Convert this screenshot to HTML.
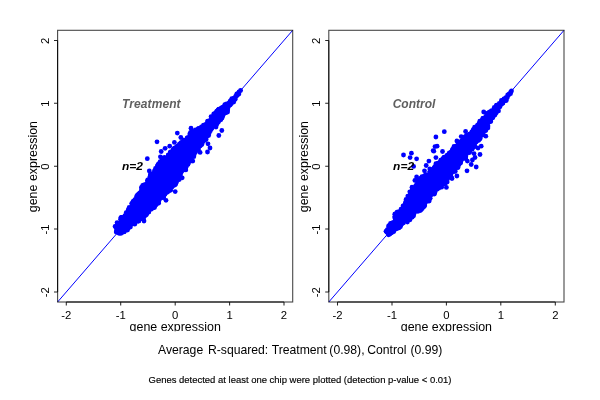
<!DOCTYPE html>
<html><head><meta charset="utf-8"><title>Scatter plot</title>
<style>
html,body{margin:0;padding:0;background:#fff;}
body{width:600px;height:400px;overflow:hidden;font-family:"Liberation Sans",sans-serif;}
svg{display:block;font-family:"Liberation Sans",sans-serif;}
.tk{font-size:11.3px;fill:#000;}
.lab{font-size:12.45px;fill:#000;}
.bi{font-size:12px;font-weight:bold;font-style:italic;}
</style></head><body>
<svg width="600" height="400" viewBox="0 0 600 400">
<defs><clipPath id="cl"><rect x="0" y="300" width="600" height="31.2"/></clipPath></defs>
<rect width="600" height="400" fill="#fff"/>
<line x1="57.6" y1="302.0" x2="292.7" y2="30.3" stroke="#0000ff" stroke-width="1"/>
<rect x="57.6" y="30.3" width="235.1" height="271.7" fill="none" stroke="#000" stroke-opacity="0.72" stroke-width="1.1"/>
<path fill="none" stroke="#000" stroke-opacity="0.85" stroke-width="1.05" d="M66.3,302.0H284.0M66.3,302.0v3.6M120.7,302.0v3.6M175.2,302.0v3.6M229.6,302.0v3.6M284.0,302.0v3.6"/>
<path fill="none" stroke="#000" stroke-opacity="0.85" stroke-width="1.05" d="M57.6,291.9V40.4M57.6,291.9h-3.6M57.6,229.0h-3.6M57.6,166.2h-3.6M57.6,103.3h-3.6M57.6,40.4h-3.6"/>
<text class="tk" x="66.3" y="319" text-anchor="middle">-2</text>
<text class="tk" transform="translate(48.8,292.3) rotate(-90)" text-anchor="middle">-2</text>
<text class="tk" x="120.7" y="319" text-anchor="middle">-1</text>
<text class="tk" transform="translate(48.8,229.4) rotate(-90)" text-anchor="middle">-1</text>
<text class="tk" x="175.2" y="319" text-anchor="middle">0</text>
<text class="tk" transform="translate(48.8,166.6) rotate(-90)" text-anchor="middle">0</text>
<text class="tk" x="229.6" y="319" text-anchor="middle">1</text>
<text class="tk" transform="translate(48.8,103.7) rotate(-90)" text-anchor="middle">1</text>
<text class="tk" x="284.0" y="319" text-anchor="middle">2</text>
<text class="tk" transform="translate(48.8,40.8) rotate(-90)" text-anchor="middle">2</text>
<text class="lab" x="175.2" y="330.9" text-anchor="middle" clip-path="url(#cl)">gene expression</text>
<text class="lab" transform="translate(36.9,166.6) rotate(-90)" text-anchor="middle">gene expression</text>
<line x1="328.8" y1="302.0" x2="564.0" y2="30.3" stroke="#0000ff" stroke-width="1"/>
<rect x="328.8" y="30.3" width="235.2" height="271.7" fill="none" stroke="#000" stroke-opacity="0.72" stroke-width="1.1"/>
<path fill="none" stroke="#000" stroke-opacity="0.85" stroke-width="1.05" d="M337.5,302.0H555.3M337.5,302.0v3.6M392.0,302.0v3.6M446.4,302.0v3.6M500.8,302.0v3.6M555.3,302.0v3.6"/>
<path fill="none" stroke="#000" stroke-opacity="0.85" stroke-width="1.05" d="M328.8,291.9V40.4M328.8,291.9h-3.6M328.8,229.0h-3.6M328.8,166.2h-3.6M328.8,103.3h-3.6M328.8,40.4h-3.6"/>
<text class="tk" x="337.5" y="319" text-anchor="middle">-2</text>
<text class="tk" transform="translate(320.0,292.3) rotate(-90)" text-anchor="middle">-2</text>
<text class="tk" x="392.0" y="319" text-anchor="middle">-1</text>
<text class="tk" transform="translate(320.0,229.4) rotate(-90)" text-anchor="middle">-1</text>
<text class="tk" x="446.4" y="319" text-anchor="middle">0</text>
<text class="tk" transform="translate(320.0,166.6) rotate(-90)" text-anchor="middle">0</text>
<text class="tk" x="500.8" y="319" text-anchor="middle">1</text>
<text class="tk" transform="translate(320.0,103.7) rotate(-90)" text-anchor="middle">1</text>
<text class="tk" x="555.3" y="319" text-anchor="middle">2</text>
<text class="tk" transform="translate(320.0,40.8) rotate(-90)" text-anchor="middle">2</text>
<text class="lab" x="446.4" y="330.9" text-anchor="middle" clip-path="url(#cl)">gene expression</text>
<text class="lab" transform="translate(308.1,166.6) rotate(-90)" text-anchor="middle">gene expression</text>
<g fill="#0000ff">
<path d="M117.2,233.7 118.4,233.8 123.2,232.0 132.7,223.8 133.0,223.6 133.3,223.4 142.8,218.2 151.4,208.7 151.5,208.5 158.4,201.7 164.8,193.8 165.0,193.6 165.2,193.3 172.9,186.8 177.6,178.3 177.8,178.0 184.6,168.1 190.7,158.2 190.8,158.1 195.5,150.6 195.9,150.2 201.7,143.5 206.7,136.1 206.8,136.0 213.1,127.4 213.2,127.1 220.6,118.5 225.5,111.2 225.6,111.0 232.9,101.1 235.1,97.9 234.1,98.6 234.1,98.6 224.1,106.0 214.5,113.2 205.1,124.8 204.9,125.1 204.6,125.3 204.2,125.6 197.3,130.0 197.0,130.1 196.8,130.2 191.7,132.4 188.8,137.5 188.6,137.7 188.4,138.0 188.2,138.3 187.9,138.5 187.7,138.7 177.5,145.5 172.6,150.4 168.3,155.5 168.1,155.7 167.9,155.9 167.6,156.1 162.1,160.0 158.1,166.4 155.5,170.8 155.3,171.0 155.1,171.3 154.9,171.5 151.4,174.9 148.4,178.9 146.5,182.2 146.3,182.6 146.1,182.9 141.7,187.7 140.8,191.7 140.7,192.1 140.6,192.4 140.4,192.8 140.2,193.1 139.9,193.4 135.3,198.4 132.9,204.7 132.7,205.0 132.5,205.3 132.3,205.7 127.1,211.8 123.6,216.1 120.1,220.5 120.1,220.5 117.2,224.1 117.2,233.7Z"/>
<circle cx="121.8" cy="221.4" r="2.4"/>
<circle cx="117.9" cy="228.9" r="2.4"/>
<circle cx="202.3" cy="129.0" r="2.4"/>
<circle cx="218.6" cy="121.7" r="2.4"/>
<circle cx="220.4" cy="111.0" r="2.4"/>
<circle cx="128.3" cy="209.8" r="2.4"/>
<circle cx="162.9" cy="159.9" r="2.4"/>
<circle cx="128.2" cy="212.2" r="2.4"/>
<circle cx="163.0" cy="160.5" r="2.4"/>
<circle cx="195.9" cy="132.6" r="2.4"/>
<circle cx="167.8" cy="190.0" r="2.4"/>
<circle cx="198.4" cy="146.0" r="2.4"/>
<circle cx="204.9" cy="137.0" r="2.4"/>
<circle cx="139.7" cy="196.6" r="2.4"/>
<circle cx="161.5" cy="164.2" r="2.4"/>
<circle cx="219.0" cy="117.7" r="2.4"/>
<circle cx="217.3" cy="112.0" r="2.4"/>
<circle cx="137.2" cy="198.9" r="2.4"/>
<circle cx="192.3" cy="153.8" r="2.4"/>
<circle cx="227.4" cy="110.3" r="2.4"/>
<circle cx="142.2" cy="218.6" r="2.4"/>
<circle cx="128.4" cy="225.7" r="2.4"/>
<circle cx="141.9" cy="192.5" r="2.4"/>
<circle cx="202.6" cy="142.2" r="2.4"/>
<circle cx="134.2" cy="222.1" r="2.4"/>
<circle cx="136.1" cy="220.2" r="2.4"/>
<circle cx="152.5" cy="176.1" r="2.4"/>
<circle cx="141.7" cy="187.8" r="2.4"/>
<circle cx="205.2" cy="126.3" r="2.4"/>
<circle cx="213.8" cy="113.8" r="2.4"/>
<circle cx="158.3" cy="166.4" r="2.4"/>
<circle cx="122.1" cy="220.8" r="2.4"/>
<circle cx="181.6" cy="169.0" r="2.4"/>
<circle cx="223.0" cy="112.5" r="2.4"/>
<circle cx="179.3" cy="146.7" r="2.4"/>
<circle cx="163.9" cy="195.2" r="2.4"/>
<circle cx="130.5" cy="210.8" r="2.4"/>
<circle cx="148.8" cy="212.1" r="2.4"/>
<circle cx="216.0" cy="114.2" r="2.4"/>
<circle cx="160.4" cy="163.6" r="2.4"/>
<circle cx="146.2" cy="213.8" r="2.4"/>
<circle cx="169.6" cy="190.3" r="2.4"/>
<circle cx="126.3" cy="228.2" r="2.4"/>
<circle cx="193.8" cy="156.7" r="2.4"/>
<circle cx="190.1" cy="158.0" r="2.4"/>
<circle cx="139.7" cy="192.8" r="2.4"/>
<circle cx="185.7" cy="141.6" r="2.4"/>
<circle cx="191.4" cy="134.2" r="2.4"/>
<circle cx="127.8" cy="211.4" r="2.4"/>
<circle cx="132.2" cy="203.6" r="2.4"/>
<circle cx="136.1" cy="199.1" r="2.4"/>
<circle cx="129.2" cy="225.2" r="2.4"/>
<circle cx="199.2" cy="130.7" r="2.4"/>
<circle cx="177.0" cy="177.8" r="2.4"/>
<circle cx="228.4" cy="106.8" r="2.4"/>
<circle cx="190.0" cy="156.8" r="2.4"/>
<circle cx="225.2" cy="108.6" r="2.4"/>
<circle cx="162.5" cy="194.3" r="2.4"/>
<circle cx="137.4" cy="195.2" r="2.4"/>
<circle cx="224.4" cy="112.3" r="2.4"/>
<circle cx="134.3" cy="223.2" r="2.4"/>
<circle cx="158.7" cy="199.8" r="2.4"/>
<circle cx="146.6" cy="212.6" r="2.4"/>
<circle cx="128.9" cy="208.8" r="2.4"/>
<circle cx="190.9" cy="157.4" r="2.4"/>
<circle cx="195.5" cy="131.9" r="2.4"/>
<circle cx="134.1" cy="200.8" r="2.4"/>
<circle cx="209.4" cy="131.1" r="2.4"/>
<circle cx="225.2" cy="110.2" r="2.4"/>
<circle cx="179.2" cy="176.4" r="2.4"/>
<circle cx="134.3" cy="203.8" r="2.4"/>
<circle cx="218.1" cy="109.8" r="2.4"/>
<circle cx="185.7" cy="164.7" r="2.4"/>
<circle cx="220.6" cy="110.6" r="2.4"/>
<circle cx="175.8" cy="183.8" r="2.4"/>
<circle cx="204.5" cy="125.9" r="2.4"/>
<circle cx="132.8" cy="222.8" r="2.4"/>
<circle cx="183.5" cy="142.2" r="2.4"/>
<circle cx="209.4" cy="130.9" r="2.4"/>
<circle cx="156.2" cy="202.7" r="2.4"/>
<circle cx="160.6" cy="195.8" r="2.4"/>
<circle cx="177.6" cy="178.8" r="2.4"/>
<circle cx="201.8" cy="128.2" r="2.4"/>
<circle cx="238.9" cy="94.0" r="2.4"/>
<circle cx="163.3" cy="195.0" r="2.4"/>
<circle cx="214.3" cy="124.7" r="2.4"/>
<circle cx="198.1" cy="128.9" r="2.4"/>
<circle cx="163.6" cy="161.2" r="2.4"/>
<circle cx="192.7" cy="134.6" r="2.4"/>
<circle cx="190.8" cy="133.0" r="2.4"/>
<circle cx="130.7" cy="223.6" r="2.4"/>
<circle cx="157.2" cy="202.2" r="2.4"/>
<circle cx="216.1" cy="112.5" r="2.4"/>
<circle cx="159.0" cy="197.9" r="2.4"/>
<circle cx="210.0" cy="129.2" r="2.4"/>
<circle cx="127.8" cy="226.2" r="2.4"/>
<circle cx="165.8" cy="192.2" r="2.4"/>
<circle cx="165.3" cy="190.9" r="2.4"/>
<circle cx="179.1" cy="145.5" r="2.4"/>
<circle cx="119.1" cy="230.5" r="2.4"/>
<circle cx="215.9" cy="124.4" r="2.4"/>
<circle cx="187.1" cy="137.8" r="2.4"/>
<circle cx="145.2" cy="215.2" r="2.4"/>
<circle cx="141.3" cy="218.3" r="2.4"/>
<circle cx="125.6" cy="229.5" r="2.4"/>
<circle cx="154.4" cy="170.9" r="2.4"/>
<circle cx="175.6" cy="180.5" r="2.4"/>
<circle cx="206.9" cy="124.2" r="2.4"/>
<circle cx="161.2" cy="165.0" r="2.4"/>
<circle cx="139.8" cy="195.8" r="2.4"/>
<circle cx="146.9" cy="211.5" r="2.4"/>
<circle cx="206.2" cy="124.2" r="2.4"/>
<circle cx="170.3" cy="154.5" r="2.4"/>
<circle cx="153.0" cy="176.1" r="2.4"/>
<circle cx="145.2" cy="212.8" r="2.4"/>
<circle cx="196.6" cy="149.4" r="2.4"/>
<circle cx="188.0" cy="164.2" r="2.4"/>
<circle cx="227.0" cy="109.7" r="2.4"/>
<circle cx="176.7" cy="148.4" r="2.4"/>
<circle cx="147.8" cy="181.1" r="2.4"/>
<circle cx="175.0" cy="183.0" r="2.4"/>
<circle cx="231.4" cy="100.5" r="2.4"/>
<circle cx="216.7" cy="124.4" r="2.4"/>
<circle cx="173.8" cy="150.7" r="2.4"/>
<circle cx="180.1" cy="175.6" r="2.4"/>
<circle cx="193.5" cy="131.6" r="2.4"/>
<circle cx="138.5" cy="194.1" r="2.4"/>
<circle cx="127.5" cy="230.0" r="2.4"/>
<circle cx="124.9" cy="215.6" r="2.4"/>
<circle cx="117.0" cy="225.0" r="2.4"/>
<circle cx="119.3" cy="224.5" r="2.4"/>
<circle cx="222.6" cy="107.7" r="2.4"/>
<circle cx="174.6" cy="148.6" r="2.4"/>
<circle cx="120.8" cy="233.4" r="2.4"/>
<circle cx="221.3" cy="108.2" r="2.4"/>
<circle cx="181.4" cy="171.4" r="2.4"/>
<circle cx="231.8" cy="98.7" r="2.4"/>
<circle cx="164.9" cy="160.5" r="2.4"/>
<circle cx="118.2" cy="228.2" r="2.4"/>
<circle cx="230.4" cy="101.5" r="2.4"/>
<circle cx="202.9" cy="138.1" r="2.4"/>
<circle cx="199.0" cy="144.8" r="2.4"/>
<circle cx="222.5" cy="108.6" r="2.4"/>
<circle cx="142.9" cy="186.5" r="2.4"/>
<circle cx="209.4" cy="121.6" r="2.4"/>
<circle cx="212.0" cy="126.0" r="2.4"/>
<circle cx="121.3" cy="217.4" r="2.4"/>
<circle cx="179.3" cy="175.5" r="2.4"/>
<circle cx="143.0" cy="218.2" r="2.4"/>
<circle cx="116.2" cy="232.0" r="2.4"/>
<circle cx="188.0" cy="137.7" r="2.4"/>
<circle cx="173.6" cy="182.4" r="2.4"/>
<circle cx="170.4" cy="190.1" r="2.4"/>
<circle cx="176.8" cy="146.8" r="2.4"/>
<circle cx="148.5" cy="212.0" r="2.4"/>
<circle cx="192.7" cy="154.4" r="2.4"/>
<circle cx="217.6" cy="120.6" r="2.4"/>
<circle cx="153.3" cy="207.4" r="2.4"/>
<circle cx="142.5" cy="192.8" r="2.4"/>
<circle cx="127.2" cy="213.1" r="2.4"/>
<circle cx="166.7" cy="191.1" r="2.4"/>
<circle cx="162.1" cy="159.9" r="2.4"/>
<circle cx="185.9" cy="167.5" r="2.4"/>
<circle cx="155.7" cy="202.3" r="2.4"/>
<circle cx="204.7" cy="138.8" r="2.4"/>
<circle cx="179.0" cy="174.2" r="2.4"/>
<circle cx="147.0" cy="210.5" r="2.4"/>
<circle cx="139.1" cy="194.1" r="2.4"/>
<circle cx="226.5" cy="109.8" r="2.4"/>
<circle cx="122.6" cy="219.5" r="2.4"/>
<circle cx="211.1" cy="116.6" r="2.4"/>
<circle cx="210.8" cy="120.0" r="2.4"/>
<circle cx="160.3" cy="166.3" r="2.4"/>
<circle cx="229.1" cy="104.1" r="2.4"/>
<circle cx="159.2" cy="198.1" r="2.4"/>
<circle cx="181.0" cy="172.8" r="2.4"/>
<circle cx="234.1" cy="98.4" r="2.4"/>
<circle cx="169.8" cy="156.5" r="2.4"/>
<circle cx="184.6" cy="166.9" r="2.4"/>
<circle cx="129.6" cy="210.3" r="2.4"/>
<circle cx="188.7" cy="157.7" r="2.4"/>
<circle cx="143.9" cy="185.3" r="2.4"/>
<circle cx="151.8" cy="174.9" r="2.4"/>
<circle cx="226.0" cy="111.5" r="2.4"/>
<circle cx="168.6" cy="155.2" r="2.4"/>
<circle cx="181.1" cy="142.6" r="2.4"/>
<circle cx="157.0" cy="203.6" r="2.4"/>
<circle cx="179.5" cy="143.9" r="2.4"/>
<circle cx="207.8" cy="134.7" r="2.4"/>
<circle cx="146.5" cy="214.6" r="2.4"/>
<circle cx="164.4" cy="157.4" r="2.4"/>
<circle cx="142.7" cy="185.4" r="2.4"/>
<circle cx="190.1" cy="137.1" r="2.4"/>
<circle cx="134.1" cy="201.9" r="2.4"/>
<circle cx="159.6" cy="164.1" r="2.4"/>
<circle cx="140.1" cy="218.4" r="2.4"/>
<circle cx="121.8" cy="217.3" r="2.4"/>
<circle cx="162.9" cy="158.6" r="2.4"/>
<circle cx="138.2" cy="195.5" r="2.4"/>
<circle cx="226.3" cy="112.2" r="2.4"/>
<circle cx="166.3" cy="159.2" r="2.4"/>
<circle cx="200.7" cy="129.0" r="2.4"/>
<circle cx="150.4" cy="177.4" r="2.4"/>
<circle cx="135.5" cy="201.6" r="2.4"/>
<circle cx="181.9" cy="170.8" r="2.4"/>
<circle cx="147.5" cy="182.8" r="2.4"/>
<circle cx="234.9" cy="99.4" r="2.4"/>
<circle cx="182.4" cy="142.1" r="2.4"/>
<circle cx="169.4" cy="156.1" r="2.4"/>
<circle cx="173.9" cy="180.8" r="2.4"/>
<circle cx="225.0" cy="105.1" r="2.4"/>
<circle cx="185.9" cy="140.2" r="2.4"/>
<circle cx="181.0" cy="170.7" r="2.4"/>
<circle cx="169.3" cy="189.7" r="2.4"/>
<circle cx="164.5" cy="160.9" r="2.4"/>
<circle cx="224.5" cy="112.1" r="2.4"/>
<circle cx="138.7" cy="219.2" r="2.4"/>
<circle cx="215.6" cy="122.3" r="2.4"/>
<circle cx="141.4" cy="191.2" r="2.4"/>
<circle cx="163.4" cy="158.4" r="2.4"/>
<circle cx="222.1" cy="118.1" r="2.4"/>
<circle cx="150.9" cy="175.0" r="2.4"/>
<circle cx="161.8" cy="197.5" r="2.4"/>
<circle cx="151.6" cy="207.2" r="2.4"/>
<circle cx="200.7" cy="144.9" r="2.4"/>
<circle cx="122.6" cy="220.6" r="2.4"/>
<circle cx="186.1" cy="165.3" r="2.4"/>
<circle cx="137.6" cy="221.3" r="2.4"/>
<circle cx="145.4" cy="213.9" r="2.4"/>
<circle cx="145.0" cy="213.1" r="2.4"/>
<circle cx="211.1" cy="119.6" r="2.4"/>
<circle cx="118.6" cy="227.2" r="2.4"/>
<circle cx="136.6" cy="199.4" r="2.4"/>
<circle cx="119.0" cy="233.3" r="2.4"/>
<circle cx="138.1" cy="220.1" r="2.4"/>
<circle cx="132.3" cy="204.8" r="2.4"/>
<circle cx="170.5" cy="190.2" r="2.4"/>
<circle cx="198.3" cy="149.2" r="2.4"/>
<circle cx="219.6" cy="119.0" r="2.4"/>
<circle cx="216.8" cy="111.2" r="2.4"/>
<circle cx="165.2" cy="192.6" r="2.4"/>
<circle cx="157.9" cy="164.8" r="2.4"/>
<circle cx="133.5" cy="205.9" r="2.4"/>
<circle cx="144.8" cy="187.2" r="2.4"/>
<circle cx="192.1" cy="135.5" r="2.4"/>
<circle cx="201.9" cy="144.4" r="2.4"/>
<circle cx="117.7" cy="224.9" r="2.4"/>
<circle cx="192.1" cy="153.5" r="2.4"/>
<circle cx="190.5" cy="137.8" r="2.4"/>
<circle cx="145.3" cy="215.6" r="2.4"/>
<circle cx="126.2" cy="212.7" r="2.4"/>
<circle cx="133.4" cy="205.5" r="2.4"/>
<circle cx="215.0" cy="115.4" r="2.4"/>
<circle cx="177.2" cy="147.7" r="2.4"/>
<circle cx="208.5" cy="121.2" r="2.4"/>
<circle cx="208.0" cy="133.6" r="2.4"/>
<circle cx="174.5" cy="180.4" r="2.4"/>
<circle cx="118.6" cy="229.0" r="2.4"/>
<circle cx="182.9" cy="167.2" r="2.4"/>
<circle cx="123.8" cy="231.9" r="2.4"/>
<circle cx="170.9" cy="155.0" r="2.4"/>
<circle cx="170.3" cy="154.2" r="2.4"/>
<circle cx="165.0" cy="194.2" r="2.4"/>
<circle cx="163.5" cy="197.6" r="2.4"/>
<circle cx="217.5" cy="120.1" r="2.4"/>
<circle cx="133.7" cy="202.6" r="2.4"/>
<circle cx="134.7" cy="224.2" r="2.4"/>
<circle cx="146.7" cy="184.7" r="2.4"/>
<circle cx="141.8" cy="194.1" r="2.4"/>
<circle cx="180.8" cy="171.6" r="2.4"/>
<circle cx="212.8" cy="125.9" r="2.4"/>
<circle cx="216.2" cy="121.1" r="2.4"/>
<circle cx="173.4" cy="185.7" r="2.4"/>
<circle cx="187.2" cy="140.5" r="2.4"/>
<circle cx="220.1" cy="118.9" r="2.4"/>
<circle cx="217.5" cy="120.5" r="2.4"/>
<circle cx="216.2" cy="114.0" r="2.4"/>
<circle cx="162.6" cy="195.7" r="2.4"/>
<circle cx="167.6" cy="191.8" r="2.4"/>
<circle cx="128.8" cy="225.9" r="2.4"/>
<circle cx="143.6" cy="217.5" r="2.4"/>
<circle cx="201.5" cy="128.7" r="2.4"/>
<circle cx="145.1" cy="214.4" r="2.4"/>
<circle cx="198.7" cy="128.4" r="2.4"/>
<circle cx="169.6" cy="155.0" r="2.4"/>
<circle cx="146.5" cy="185.4" r="2.4"/>
<circle cx="140.2" cy="218.3" r="2.4"/>
<circle cx="198.8" cy="147.1" r="2.4"/>
<circle cx="161.5" cy="197.4" r="2.4"/>
<circle cx="151.9" cy="205.7" r="2.4"/>
<circle cx="174.2" cy="183.0" r="2.4"/>
<circle cx="179.5" cy="174.4" r="2.4"/>
<circle cx="209.2" cy="132.9" r="2.4"/>
<circle cx="224.0" cy="107.3" r="2.4"/>
<circle cx="226.5" cy="103.9" r="2.4"/>
<circle cx="131.1" cy="224.2" r="2.4"/>
<circle cx="190.6" cy="132.5" r="2.4"/>
<circle cx="152.0" cy="176.2" r="2.4"/>
<circle cx="190.6" cy="158.7" r="2.4"/>
<circle cx="129.5" cy="211.4" r="2.4"/>
<circle cx="192.9" cy="152.9" r="2.4"/>
<circle cx="129.2" cy="207.5" r="2.4"/>
<circle cx="221.6" cy="115.2" r="2.4"/>
<circle cx="115.1" cy="226.5" r="2.4"/>
<circle cx="159.5" cy="165.5" r="2.4"/>
<circle cx="231.2" cy="103.7" r="2.4"/>
<circle cx="131.7" cy="203.6" r="2.4"/>
<circle cx="206.4" cy="137.1" r="2.4"/>
<circle cx="176.6" cy="181.9" r="2.4"/>
<circle cx="133.6" cy="205.5" r="2.4"/>
<circle cx="137.9" cy="219.5" r="2.4"/>
<circle cx="128.2" cy="228.2" r="2.4"/>
<circle cx="166.9" cy="158.0" r="2.4"/>
<circle cx="184.9" cy="168.2" r="2.4"/>
<circle cx="161.1" cy="164.1" r="2.4"/>
<circle cx="181.7" cy="169.0" r="2.4"/>
<circle cx="208.6" cy="135.6" r="2.4"/>
<circle cx="196.8" cy="131.0" r="2.4"/>
<circle cx="133.6" cy="221.3" r="2.4"/>
<circle cx="143.7" cy="186.7" r="2.4"/>
<circle cx="163.7" cy="193.2" r="2.4"/>
<circle cx="146.8" cy="213.3" r="2.4"/>
<circle cx="144.0" cy="185.0" r="2.4"/>
<circle cx="146.5" cy="212.3" r="2.4"/>
<circle cx="204.3" cy="137.7" r="2.4"/>
<circle cx="204.5" cy="137.2" r="2.4"/>
<circle cx="176.7" cy="179.8" r="2.4"/>
<circle cx="141.5" cy="187.5" r="2.4"/>
<circle cx="116.4" cy="228.6" r="2.4"/>
<circle cx="186.0" cy="163.6" r="2.4"/>
<circle cx="159.8" cy="162.6" r="2.4"/>
<circle cx="195.3" cy="150.5" r="2.4"/>
<circle cx="157.3" cy="166.2" r="2.4"/>
<circle cx="120.6" cy="219.3" r="2.4"/>
<circle cx="172.0" cy="185.7" r="2.4"/>
<circle cx="133.1" cy="203.4" r="2.4"/>
<circle cx="162.0" cy="161.8" r="2.4"/>
<circle cx="137.6" cy="219.4" r="2.4"/>
<circle cx="213.9" cy="115.3" r="2.4"/>
<circle cx="221.2" cy="109.5" r="2.4"/>
<circle cx="177.3" cy="179.6" r="2.4"/>
<circle cx="159.1" cy="200.2" r="2.4"/>
<circle cx="237.0" cy="95.6" r="2.4"/>
<circle cx="150.9" cy="209.0" r="2.4"/>
<circle cx="184.7" cy="167.7" r="2.4"/>
<circle cx="192.0" cy="154.6" r="2.4"/>
<circle cx="160.2" cy="167.0" r="2.4"/>
<circle cx="171.3" cy="152.8" r="2.4"/>
<circle cx="152.3" cy="207.9" r="2.4"/>
<circle cx="231.9" cy="102.2" r="2.4"/>
<circle cx="147.1" cy="211.0" r="2.4"/>
<circle cx="216.4" cy="122.9" r="2.4"/>
<circle cx="179.7" cy="145.4" r="2.4"/>
<circle cx="175.2" cy="149.4" r="2.4"/>
<circle cx="116.5" cy="226.2" r="2.4"/>
<circle cx="222.5" cy="114.3" r="2.4"/>
<circle cx="132.4" cy="204.2" r="2.4"/>
<circle cx="177.7" cy="147.1" r="2.4"/>
<circle cx="137.0" cy="219.8" r="2.4"/>
<circle cx="155.9" cy="205.0" r="2.4"/>
<circle cx="173.0" cy="150.2" r="2.4"/>
<circle cx="147.6" cy="180.2" r="2.4"/>
<circle cx="182.6" cy="167.3" r="2.4"/>
<circle cx="130.2" cy="225.4" r="2.4"/>
<circle cx="191.1" cy="134.3" r="2.4"/>
<circle cx="118.3" cy="227.3" r="2.4"/>
<circle cx="163.5" cy="196.9" r="2.4"/>
<circle cx="122.2" cy="232.4" r="2.4"/>
<circle cx="214.4" cy="113.9" r="2.4"/>
<circle cx="181.5" cy="142.8" r="2.4"/>
<circle cx="126.5" cy="226.9" r="2.4"/>
<circle cx="162.1" cy="163.1" r="2.4"/>
<circle cx="155.9" cy="173.0" r="2.4"/>
<circle cx="150.7" cy="174.0" r="2.4"/>
<circle cx="198.3" cy="131.4" r="2.4"/>
<circle cx="137.3" cy="197.0" r="2.4"/>
<circle cx="162.9" cy="158.8" r="2.4"/>
<circle cx="185.6" cy="163.4" r="2.4"/>
<circle cx="151.5" cy="177.1" r="2.4"/>
<circle cx="187.0" cy="162.1" r="2.4"/>
<circle cx="211.2" cy="128.5" r="2.4"/>
<circle cx="227.6" cy="112.0" r="2.4"/>
<circle cx="158.4" cy="201.8" r="2.4"/>
<circle cx="180.2" cy="174.8" r="2.4"/>
<circle cx="224.3" cy="111.8" r="2.4"/>
<circle cx="205.7" cy="125.3" r="2.4"/>
<circle cx="216.0" cy="127.1" r="2.4"/>
<circle cx="191.9" cy="133.1" r="2.4"/>
<circle cx="117.2" cy="232.2" r="2.4"/>
<circle cx="175.0" cy="150.7" r="2.4"/>
<circle cx="211.0" cy="119.1" r="2.4"/>
<circle cx="220.8" cy="119.8" r="2.4"/>
<circle cx="237.7" cy="94.6" r="2.4"/>
<circle cx="124.3" cy="231.4" r="2.4"/>
<circle cx="125.7" cy="216.2" r="2.4"/>
<circle cx="208.1" cy="132.7" r="2.4"/>
<circle cx="222.7" cy="107.3" r="2.4"/>
<circle cx="134.9" cy="199.7" r="2.4"/>
<circle cx="168.2" cy="188.6" r="2.4"/>
<circle cx="167.3" cy="192.2" r="2.4"/>
<circle cx="230.0" cy="101.4" r="2.4"/>
<circle cx="189.7" cy="161.5" r="2.4"/>
<circle cx="142.3" cy="192.5" r="2.4"/>
<circle cx="183.1" cy="169.5" r="2.4"/>
<circle cx="224.6" cy="106.3" r="2.4"/>
<circle cx="225.0" cy="110.9" r="2.4"/>
<circle cx="217.5" cy="119.9" r="2.4"/>
<circle cx="212.3" cy="127.8" r="2.4"/>
<circle cx="130.4" cy="210.8" r="2.4"/>
<circle cx="141.8" cy="189.6" r="2.4"/>
<circle cx="121.5" cy="221.0" r="2.4"/>
<circle cx="179.1" cy="173.6" r="2.4"/>
<circle cx="122.9" cy="220.2" r="2.4"/>
<circle cx="146.6" cy="211.0" r="2.4"/>
<circle cx="194.8" cy="151.7" r="2.4"/>
<circle cx="179.3" cy="179.5" r="2.4"/>
<circle cx="151.4" cy="209.2" r="2.4"/>
<circle cx="158.5" cy="167.8" r="2.4"/>
<circle cx="233.7" cy="102.0" r="2.4"/>
<circle cx="192.1" cy="131.4" r="2.4"/>
<circle cx="202.1" cy="141.3" r="2.4"/>
<circle cx="227.6" cy="105.2" r="2.4"/>
<circle cx="186.0" cy="166.4" r="2.4"/>
<circle cx="189.8" cy="134.0" r="2.4"/>
<circle cx="120.8" cy="217.8" r="2.4"/>
<circle cx="162.6" cy="162.5" r="2.4"/>
<circle cx="120.8" cy="231.2" r="2.4"/>
<circle cx="146.0" cy="214.5" r="2.4"/>
<circle cx="225.4" cy="112.9" r="2.4"/>
<circle cx="151.4" cy="205.8" r="2.4"/>
<circle cx="225.4" cy="110.8" r="2.4"/>
<circle cx="139.3" cy="194.1" r="2.4"/>
<circle cx="134.7" cy="200.6" r="2.4"/>
<circle cx="138.7" cy="221.0" r="2.4"/>
<circle cx="203.8" cy="137.3" r="2.4"/>
<circle cx="117.1" cy="222.6" r="2.4"/>
<circle cx="210.8" cy="128.7" r="2.4"/>
<circle cx="172.0" cy="187.0" r="2.4"/>
<circle cx="134.4" cy="206.1" r="2.4"/>
<circle cx="122.7" cy="218.8" r="2.4"/>
<circle cx="124.3" cy="231.6" r="2.4"/>
<circle cx="222.7" cy="114.8" r="2.4"/>
<circle cx="139.8" cy="195.1" r="2.4"/>
<circle cx="153.5" cy="173.4" r="2.4"/>
<circle cx="225.8" cy="108.7" r="2.4"/>
<circle cx="201.2" cy="141.1" r="2.4"/>
<circle cx="217.5" cy="122.4" r="2.4"/>
<circle cx="149.9" cy="179.0" r="2.4"/>
<circle cx="150.8" cy="175.1" r="2.4"/>
<circle cx="160.5" cy="165.7" r="2.4"/>
<circle cx="146.5" cy="212.2" r="2.4"/>
<circle cx="195.1" cy="151.4" r="2.4"/>
<circle cx="218.8" cy="109.3" r="2.4"/>
<circle cx="189.7" cy="136.7" r="2.4"/>
<circle cx="189.8" cy="157.2" r="2.4"/>
<circle cx="169.9" cy="156.5" r="2.4"/>
<circle cx="138.8" cy="220.9" r="2.4"/>
<circle cx="189.9" cy="156.3" r="2.4"/>
<circle cx="175.0" cy="147.8" r="2.4"/>
<circle cx="165.3" cy="159.3" r="2.4"/>
<circle cx="184.7" cy="166.7" r="2.4"/>
<circle cx="136.7" cy="219.4" r="2.4"/>
<circle cx="210.2" cy="129.4" r="2.4"/>
<circle cx="227.7" cy="108.9" r="2.4"/>
<circle cx="144.9" cy="185.0" r="2.4"/>
<circle cx="125.0" cy="230.3" r="2.4"/>
<circle cx="158.3" cy="201.5" r="2.4"/>
<circle cx="147.4" cy="212.3" r="2.4"/>
<circle cx="117.6" cy="228.1" r="2.4"/>
<circle cx="133.2" cy="205.9" r="2.4"/>
<circle cx="140.8" cy="192.7" r="2.4"/>
<circle cx="133.1" cy="205.8" r="2.4"/>
<circle cx="143.0" cy="219.0" r="2.4"/>
<circle cx="178.3" cy="146.5" r="2.4"/>
<circle cx="217.5" cy="122.5" r="2.4"/>
<circle cx="196.5" cy="149.1" r="2.4"/>
<circle cx="224.3" cy="108.0" r="2.4"/>
<circle cx="153.6" cy="207.1" r="2.4"/>
<circle cx="200.3" cy="145.7" r="2.4"/>
<circle cx="155.7" cy="172.5" r="2.4"/>
<circle cx="234.9" cy="98.0" r="2.4"/>
<circle cx="146.0" cy="213.2" r="2.4"/>
<circle cx="204.9" cy="138.9" r="2.4"/>
<circle cx="152.6" cy="174.2" r="2.4"/>
<circle cx="210.6" cy="129.2" r="2.4"/>
<circle cx="158.4" cy="164.1" r="2.4"/>
<circle cx="156.4" cy="172.9" r="2.4"/>
<circle cx="157.6" cy="167.5" r="2.4"/>
<circle cx="136.6" cy="219.5" r="2.4"/>
<circle cx="140.1" cy="196.1" r="2.4"/>
<circle cx="191.5" cy="159.8" r="2.4"/>
<circle cx="211.4" cy="128.9" r="2.4"/>
<circle cx="194.3" cy="151.5" r="2.4"/>
<circle cx="179.6" cy="176.1" r="2.4"/>
<circle cx="119.4" cy="223.7" r="2.4"/>
<circle cx="224.5" cy="110.9" r="2.4"/>
<circle cx="168.4" cy="155.2" r="2.4"/>
<circle cx="163.6" cy="194.2" r="2.4"/>
<circle cx="133.8" cy="222.2" r="2.4"/>
<circle cx="159.6" cy="165.8" r="2.4"/>
<circle cx="214.6" cy="113.9" r="2.4"/>
<circle cx="160.8" cy="162.6" r="2.4"/>
<circle cx="209.2" cy="122.7" r="2.4"/>
<circle cx="227.1" cy="104.5" r="2.4"/>
<circle cx="122.3" cy="230.4" r="2.4"/>
<circle cx="183.5" cy="140.1" r="2.4"/>
<circle cx="181.8" cy="170.2" r="2.4"/>
<circle cx="119.2" cy="232.0" r="2.4"/>
<circle cx="134.5" cy="220.8" r="2.4"/>
<circle cx="121.0" cy="221.5" r="2.4"/>
<circle cx="186.5" cy="162.1" r="2.4"/>
<circle cx="124.2" cy="230.5" r="2.4"/>
<circle cx="206.0" cy="135.0" r="2.4"/>
<circle cx="216.9" cy="123.2" r="2.4"/>
<circle cx="158.6" cy="203.2" r="2.4"/>
<circle cx="221.6" cy="114.8" r="2.4"/>
<circle cx="178.1" cy="178.0" r="2.4"/>
<circle cx="176.3" cy="177.8" r="2.4"/>
<circle cx="189.2" cy="138.7" r="2.4"/>
<circle cx="211.8" cy="118.4" r="2.4"/>
<circle cx="145.6" cy="185.1" r="2.4"/>
<circle cx="190.3" cy="157.4" r="2.4"/>
<circle cx="148.3" cy="179.6" r="2.4"/>
<circle cx="184.1" cy="167.2" r="2.4"/>
<circle cx="171.6" cy="185.8" r="2.4"/>
<circle cx="118.5" cy="228.5" r="2.4"/>
<circle cx="162.8" cy="161.3" r="2.4"/>
<circle cx="157.6" cy="202.9" r="2.4"/>
<circle cx="173.0" cy="150.2" r="2.4"/>
<circle cx="170.6" cy="151.8" r="2.4"/>
<circle cx="177.3" cy="146.1" r="2.4"/>
<circle cx="184.0" cy="167.0" r="2.4"/>
<circle cx="222.9" cy="115.8" r="2.4"/>
<circle cx="201.4" cy="126.9" r="2.4"/>
<circle cx="199.9" cy="146.1" r="2.4"/>
<circle cx="154.3" cy="206.2" r="2.4"/>
<circle cx="213.8" cy="124.3" r="2.4"/>
<circle cx="193.7" cy="132.5" r="2.4"/>
<circle cx="158.1" cy="168.8" r="2.4"/>
<circle cx="203.2" cy="138.8" r="2.4"/>
<circle cx="136.6" cy="196.5" r="2.4"/>
<circle cx="184.2" cy="165.4" r="2.4"/>
<circle cx="223.6" cy="111.2" r="2.4"/>
<circle cx="200.5" cy="128.2" r="2.4"/>
<circle cx="174.1" cy="180.3" r="2.4"/>
<circle cx="134.7" cy="203.4" r="2.4"/>
<circle cx="165.7" cy="158.8" r="2.4"/>
<circle cx="130.4" cy="227.0" r="2.4"/>
<circle cx="189.1" cy="139.9" r="2.4"/>
<circle cx="134.7" cy="223.6" r="2.4"/>
<circle cx="197.3" cy="148.4" r="2.4"/>
<circle cx="173.9" cy="148.7" r="2.4"/>
<circle cx="203.5" cy="125.1" r="2.4"/>
<circle cx="207.6" cy="121.7" r="2.4"/>
<circle cx="207.7" cy="121.1" r="2.4"/>
<circle cx="151.8" cy="176.7" r="2.4"/>
<circle cx="161.1" cy="197.1" r="2.4"/>
<circle cx="208.1" cy="132.5" r="2.4"/>
<circle cx="206.1" cy="139.6" r="2.4"/>
<circle cx="146.4" cy="184.1" r="2.4"/>
<circle cx="229.8" cy="104.0" r="2.4"/>
<circle cx="224.9" cy="111.6" r="2.4"/>
<circle cx="194.2" cy="154.4" r="2.4"/>
<circle cx="181.9" cy="168.3" r="2.4"/>
<circle cx="222.8" cy="114.2" r="2.4"/>
<circle cx="235.3" cy="99.0" r="2.4"/>
<circle cx="190.1" cy="161.0" r="2.4"/>
<circle cx="124.2" cy="231.0" r="2.4"/>
<circle cx="223.3" cy="109.1" r="2.4"/>
<circle cx="206.1" cy="136.7" r="2.4"/>
<circle cx="188.2" cy="158.5" r="2.4"/>
<circle cx="157.7" cy="169.1" r="2.4"/>
<circle cx="181.2" cy="145.4" r="2.4"/>
<circle cx="125.9" cy="216.5" r="2.4"/>
<circle cx="170.1" cy="152.6" r="2.4"/>
<circle cx="180.9" cy="145.5" r="2.4"/>
<circle cx="140.1" cy="217.8" r="2.4"/>
<circle cx="141.8" cy="191.2" r="2.4"/>
<circle cx="222.9" cy="115.5" r="2.4"/>
<circle cx="144.2" cy="187.3" r="2.4"/>
<circle cx="119.5" cy="223.5" r="2.4"/>
<circle cx="184.4" cy="164.7" r="2.4"/>
<circle cx="163.7" cy="196.5" r="2.4"/>
<circle cx="155.5" cy="168.4" r="2.4"/>
<circle cx="155.0" cy="203.1" r="2.4"/>
<circle cx="195.6" cy="152.1" r="2.4"/>
<circle cx="186.3" cy="163.1" r="2.4"/>
<circle cx="123.2" cy="219.1" r="2.4"/>
<circle cx="148.0" cy="180.6" r="2.4"/>
<circle cx="204.3" cy="140.5" r="2.4"/>
<circle cx="154.7" cy="203.0" r="2.4"/>
<circle cx="183.9" cy="169.9" r="2.4"/>
<circle cx="146.7" cy="185.2" r="2.4"/>
<circle cx="133.1" cy="201.3" r="2.4"/>
<circle cx="191.9" cy="132.5" r="2.4"/>
<circle cx="116.6" cy="230.7" r="2.4"/>
<circle cx="175.2" cy="184.8" r="2.4"/>
<circle cx="182.5" cy="168.8" r="2.4"/>
<circle cx="143.9" cy="186.2" r="2.4"/>
<circle cx="221.6" cy="107.8" r="2.4"/>
<circle cx="177.0" cy="147.1" r="2.4"/>
<circle cx="131.4" cy="223.9" r="2.4"/>
<circle cx="185.8" cy="167.6" r="2.4"/>
<circle cx="128.7" cy="211.7" r="2.4"/>
<circle cx="149.9" cy="176.8" r="2.4"/>
<circle cx="211.3" cy="117.1" r="2.4"/>
<circle cx="198.5" cy="131.6" r="2.4"/>
<circle cx="154.9" cy="204.3" r="2.4"/>
<circle cx="230.2" cy="105.0" r="2.4"/>
<circle cx="142.7" cy="187.6" r="2.4"/>
<circle cx="210.4" cy="130.7" r="2.4"/>
<circle cx="122.3" cy="231.1" r="2.4"/>
<circle cx="149.1" cy="208.4" r="2.4"/>
<circle cx="224.8" cy="104.7" r="2.4"/>
<circle cx="167.7" cy="190.9" r="2.4"/>
<circle cx="226.3" cy="107.1" r="2.4"/>
<circle cx="175.5" cy="147.9" r="2.4"/>
<circle cx="160.2" cy="161.6" r="2.4"/>
<circle cx="142.6" cy="217.1" r="2.4"/>
<circle cx="224.4" cy="107.5" r="2.4"/>
<circle cx="150.5" cy="174.6" r="2.4"/>
<circle cx="181.0" cy="143.2" r="2.4"/>
<circle cx="213.8" cy="123.7" r="2.4"/>
<circle cx="187.7" cy="164.5" r="2.4"/>
<circle cx="219.0" cy="109.2" r="2.4"/>
<circle cx="205.2" cy="125.0" r="2.4"/>
<circle cx="168.3" cy="155.2" r="2.4"/>
<circle cx="153.8" cy="203.3" r="2.4"/>
<circle cx="204.5" cy="139.1" r="2.4"/>
<circle cx="223.5" cy="113.4" r="2.4"/>
<circle cx="208.1" cy="133.6" r="2.4"/>
<circle cx="155.9" cy="171.8" r="2.4"/>
<circle cx="194.6" cy="149.6" r="2.4"/>
<circle cx="131.0" cy="210.2" r="2.4"/>
<circle cx="208.0" cy="133.3" r="2.4"/>
<circle cx="157.0" cy="167.9" r="2.4"/>
<circle cx="158.1" cy="202.2" r="2.4"/>
<circle cx="232.3" cy="100.6" r="2.4"/>
<circle cx="177.3" cy="175.3" r="2.4"/>
<circle cx="203.2" cy="128.2" r="2.4"/>
<circle cx="195.4" cy="129.9" r="2.4"/>
<circle cx="157.0" cy="141.8" r="2.4"/>
<circle cx="177.3" cy="133.1" r="2.4"/>
<circle cx="180.8" cy="137.5" r="2.4"/>
<circle cx="191.0" cy="128.2" r="2.4"/>
<circle cx="147.3" cy="158.7" r="2.4"/>
<circle cx="149.3" cy="170.9" r="2.4"/>
<circle cx="161.2" cy="151.5" r="2.4"/>
<circle cx="165.1" cy="148.3" r="2.4"/>
<circle cx="169.7" cy="146.2" r="2.4"/>
<circle cx="174.4" cy="142.4" r="2.4"/>
<circle cx="160.4" cy="156.8" r="2.4"/>
<circle cx="200.1" cy="152.4" r="2.4"/>
<circle cx="192.8" cy="161.1" r="2.4"/>
<circle cx="185.8" cy="169.9" r="2.4"/>
<circle cx="182.2" cy="177.8" r="2.4"/>
<circle cx="221.8" cy="130.5" r="2.4"/>
<circle cx="218.8" cy="135.5" r="2.4"/>
<circle cx="208.0" cy="143.8" r="2.4"/>
<circle cx="210.0" cy="148.0" r="2.4"/>
<circle cx="207.5" cy="152.0" r="2.4"/>
<circle cx="175.2" cy="191.6" r="2.4"/>
<circle cx="144.0" cy="221.0" r="2.4"/>
<circle cx="154.5" cy="207.6" r="2.4"/>
<circle cx="166.0" cy="200.3" r="2.4"/>
<circle cx="223.9" cy="109.1" r="2.4"/>
<circle cx="225.4" cy="107.8" r="2.4"/>
<circle cx="226.3" cy="106.9" r="2.4"/>
<circle cx="226.9" cy="105.8" r="2.4"/>
<circle cx="227.9" cy="104.4" r="2.4"/>
<circle cx="229.1" cy="102.8" r="2.4"/>
<circle cx="230.6" cy="102.4" r="2.4"/>
<circle cx="231.3" cy="100.4" r="2.4"/>
<circle cx="233.0" cy="100.0" r="2.4"/>
<circle cx="234.0" cy="98.1" r="2.4"/>
<circle cx="235.6" cy="96.4" r="2.4"/>
<circle cx="236.5" cy="95.5" r="2.4"/>
<circle cx="236.8" cy="94.0" r="2.4"/>
<circle cx="238.0" cy="93.6" r="2.4"/>
<circle cx="239.0" cy="92.0" r="2.4"/>
<circle cx="240.6" cy="90.5" r="2.4"/>
<path d="M386.6,230.0 386.6,231.1 387.9,233.5 389.4,234.0 395.4,229.7 402.8,223.6 403.0,223.4 409.1,219.1 413.3,215.4 414.3,213.2 414.4,212.9 414.6,212.6 414.8,212.3 415.1,212.0 415.3,211.8 415.6,211.5 416.0,211.4 416.3,211.2 416.6,211.1 422.5,209.6 424.3,205.4 424.4,205.1 424.6,204.8 424.8,204.5 430.0,198.3 437.2,188.5 437.3,188.2 437.5,188.0 437.8,187.8 443.4,183.1 447.1,177.6 447.3,177.3 447.5,177.0 453.4,171.1 459.3,164.3 465.2,156.4 465.3,156.2 471.3,149.3 475.9,143.0 490.8,120.7 495.7,112.0 495.9,111.7 502.1,103.0 503.3,101.1 496.6,107.0 496.5,107.0 489.2,113.1 481.9,120.4 475.7,127.7 475.4,128.1 467.1,135.7 461.2,141.7 461.1,141.8 453.3,149.0 446.8,156.1 446.5,156.3 446.2,156.6 440.1,160.8 435.2,166.3 435.1,166.4 429.2,172.6 429.0,172.8 428.7,173.0 422.3,177.6 422.2,177.8 418.6,180.0 416.6,183.7 416.4,183.9 410.6,192.9 408.8,197.0 408.6,197.4 408.4,197.7 407.1,199.5 406.6,203.0 406.5,203.4 406.4,203.7 406.2,204.1 406.0,204.4 405.8,204.7 405.6,205.0 402.5,208.1 402.1,209.4 402.0,209.7 401.9,210.1 401.7,210.4 401.5,210.7 401.2,210.9 401.0,211.2 400.7,211.4 400.4,211.6 400.1,211.7 399.7,211.9 399.4,211.9 396.4,212.6 395.4,213.9 394.7,219.4 394.7,219.7 394.6,220.0 394.5,220.3 394.3,220.6 394.2,220.9 394.0,221.2 393.8,221.4 388.4,227.1 386.6,230.0Z"/>
<circle cx="463.4" cy="142.2" r="2.4"/>
<circle cx="434.3" cy="190.6" r="2.4"/>
<circle cx="408.7" cy="218.6" r="2.4"/>
<circle cx="499.3" cy="106.0" r="2.4"/>
<circle cx="479.2" cy="125.2" r="2.4"/>
<circle cx="496.3" cy="112.8" r="2.4"/>
<circle cx="498.5" cy="110.9" r="2.4"/>
<circle cx="445.2" cy="183.5" r="2.4"/>
<circle cx="478.4" cy="126.4" r="2.4"/>
<circle cx="436.9" cy="187.7" r="2.4"/>
<circle cx="444.7" cy="177.9" r="2.4"/>
<circle cx="433.7" cy="192.6" r="2.4"/>
<circle cx="408.5" cy="199.8" r="2.4"/>
<circle cx="429.9" cy="171.9" r="2.4"/>
<circle cx="443.7" cy="184.0" r="2.4"/>
<circle cx="410.6" cy="194.9" r="2.4"/>
<circle cx="492.3" cy="114.8" r="2.4"/>
<circle cx="485.8" cy="130.4" r="2.4"/>
<circle cx="491.7" cy="110.7" r="2.4"/>
<circle cx="430.1" cy="195.8" r="2.4"/>
<circle cx="420.3" cy="210.5" r="2.4"/>
<circle cx="470.2" cy="149.9" r="2.4"/>
<circle cx="419.8" cy="181.8" r="2.4"/>
<circle cx="448.7" cy="176.3" r="2.4"/>
<circle cx="502.8" cy="102.7" r="2.4"/>
<circle cx="500.0" cy="106.7" r="2.4"/>
<circle cx="439.7" cy="183.8" r="2.4"/>
<circle cx="489.3" cy="112.6" r="2.4"/>
<circle cx="449.3" cy="153.0" r="2.4"/>
<circle cx="445.7" cy="177.4" r="2.4"/>
<circle cx="449.4" cy="173.5" r="2.4"/>
<circle cx="444.2" cy="179.8" r="2.4"/>
<circle cx="452.2" cy="153.2" r="2.4"/>
<circle cx="421.8" cy="180.3" r="2.4"/>
<circle cx="441.2" cy="161.2" r="2.4"/>
<circle cx="403.0" cy="206.1" r="2.4"/>
<circle cx="398.7" cy="213.8" r="2.4"/>
<circle cx="448.7" cy="154.5" r="2.4"/>
<circle cx="405.3" cy="204.9" r="2.4"/>
<circle cx="473.0" cy="146.9" r="2.4"/>
<circle cx="393.3" cy="222.4" r="2.4"/>
<circle cx="395.6" cy="218.5" r="2.4"/>
<circle cx="457.7" cy="163.5" r="2.4"/>
<circle cx="390.5" cy="223.4" r="2.4"/>
<circle cx="471.8" cy="132.0" r="2.4"/>
<circle cx="432.7" cy="193.3" r="2.4"/>
<circle cx="487.5" cy="126.3" r="2.4"/>
<circle cx="473.2" cy="132.3" r="2.4"/>
<circle cx="423.7" cy="177.1" r="2.4"/>
<circle cx="394.8" cy="217.1" r="2.4"/>
<circle cx="445.1" cy="157.3" r="2.4"/>
<circle cx="431.3" cy="172.4" r="2.4"/>
<circle cx="410.0" cy="217.2" r="2.4"/>
<circle cx="409.0" cy="200.3" r="2.4"/>
<circle cx="477.2" cy="127.4" r="2.4"/>
<circle cx="478.7" cy="124.2" r="2.4"/>
<circle cx="490.5" cy="121.2" r="2.4"/>
<circle cx="489.5" cy="114.5" r="2.4"/>
<circle cx="460.6" cy="159.5" r="2.4"/>
<circle cx="460.4" cy="162.1" r="2.4"/>
<circle cx="490.7" cy="121.5" r="2.4"/>
<circle cx="494.3" cy="107.3" r="2.4"/>
<circle cx="503.4" cy="101.2" r="2.4"/>
<circle cx="473.9" cy="142.7" r="2.4"/>
<circle cx="447.1" cy="157.6" r="2.4"/>
<circle cx="470.2" cy="135.3" r="2.4"/>
<circle cx="488.9" cy="121.9" r="2.4"/>
<circle cx="466.9" cy="136.8" r="2.4"/>
<circle cx="401.9" cy="223.8" r="2.4"/>
<circle cx="388.5" cy="234.8" r="2.4"/>
<circle cx="395.2" cy="227.4" r="2.4"/>
<circle cx="396.0" cy="214.4" r="2.4"/>
<circle cx="412.6" cy="214.2" r="2.4"/>
<circle cx="447.9" cy="156.9" r="2.4"/>
<circle cx="387.8" cy="230.5" r="2.4"/>
<circle cx="469.6" cy="152.5" r="2.4"/>
<circle cx="505.8" cy="97.6" r="2.4"/>
<circle cx="387.6" cy="230.2" r="2.4"/>
<circle cx="437.2" cy="186.8" r="2.4"/>
<circle cx="464.2" cy="141.1" r="2.4"/>
<circle cx="484.7" cy="127.5" r="2.4"/>
<circle cx="496.3" cy="111.7" r="2.4"/>
<circle cx="460.5" cy="163.1" r="2.4"/>
<circle cx="461.2" cy="144.2" r="2.4"/>
<circle cx="391.6" cy="225.2" r="2.4"/>
<circle cx="413.6" cy="215.8" r="2.4"/>
<circle cx="465.4" cy="137.5" r="2.4"/>
<circle cx="442.8" cy="160.5" r="2.4"/>
<circle cx="486.0" cy="125.5" r="2.4"/>
<circle cx="439.2" cy="162.9" r="2.4"/>
<circle cx="407.2" cy="200.7" r="2.4"/>
<circle cx="450.9" cy="174.0" r="2.4"/>
<circle cx="436.2" cy="186.6" r="2.4"/>
<circle cx="452.9" cy="168.6" r="2.4"/>
<circle cx="461.1" cy="141.5" r="2.4"/>
<circle cx="488.2" cy="116.7" r="2.4"/>
<circle cx="448.1" cy="157.2" r="2.4"/>
<circle cx="458.0" cy="163.8" r="2.4"/>
<circle cx="483.1" cy="119.3" r="2.4"/>
<circle cx="479.7" cy="135.9" r="2.4"/>
<circle cx="436.7" cy="164.9" r="2.4"/>
<circle cx="420.9" cy="180.7" r="2.4"/>
<circle cx="441.6" cy="187.2" r="2.4"/>
<circle cx="477.4" cy="139.3" r="2.4"/>
<circle cx="491.4" cy="118.0" r="2.4"/>
<circle cx="393.5" cy="224.6" r="2.4"/>
<circle cx="482.3" cy="132.4" r="2.4"/>
<circle cx="426.5" cy="201.2" r="2.4"/>
<circle cx="470.9" cy="134.8" r="2.4"/>
<circle cx="406.4" cy="220.4" r="2.4"/>
<circle cx="416.1" cy="186.4" r="2.4"/>
<circle cx="480.3" cy="123.8" r="2.4"/>
<circle cx="452.6" cy="149.3" r="2.4"/>
<circle cx="462.6" cy="141.1" r="2.4"/>
<circle cx="419.1" cy="181.2" r="2.4"/>
<circle cx="454.4" cy="168.0" r="2.4"/>
<circle cx="412.4" cy="190.1" r="2.4"/>
<circle cx="469.6" cy="150.8" r="2.4"/>
<circle cx="454.7" cy="167.1" r="2.4"/>
<circle cx="488.3" cy="122.8" r="2.4"/>
<circle cx="461.7" cy="159.3" r="2.4"/>
<circle cx="478.0" cy="127.3" r="2.4"/>
<circle cx="393.0" cy="231.4" r="2.4"/>
<circle cx="473.0" cy="145.8" r="2.4"/>
<circle cx="408.0" cy="204.6" r="2.4"/>
<circle cx="398.5" cy="228.0" r="2.4"/>
<circle cx="490.6" cy="114.2" r="2.4"/>
<circle cx="475.9" cy="142.0" r="2.4"/>
<circle cx="388.6" cy="225.9" r="2.4"/>
<circle cx="465.0" cy="154.2" r="2.4"/>
<circle cx="490.9" cy="119.7" r="2.4"/>
<circle cx="453.9" cy="171.2" r="2.4"/>
<circle cx="429.8" cy="172.1" r="2.4"/>
<circle cx="491.9" cy="111.4" r="2.4"/>
<circle cx="479.1" cy="124.0" r="2.4"/>
<circle cx="407.4" cy="205.4" r="2.4"/>
<circle cx="390.0" cy="226.4" r="2.4"/>
<circle cx="459.4" cy="162.9" r="2.4"/>
<circle cx="477.3" cy="125.5" r="2.4"/>
<circle cx="466.8" cy="152.2" r="2.4"/>
<circle cx="420.0" cy="179.7" r="2.4"/>
<circle cx="500.5" cy="104.9" r="2.4"/>
<circle cx="430.3" cy="174.3" r="2.4"/>
<circle cx="479.8" cy="124.9" r="2.4"/>
<circle cx="451.1" cy="173.6" r="2.4"/>
<circle cx="422.7" cy="178.3" r="2.4"/>
<circle cx="447.4" cy="177.1" r="2.4"/>
<circle cx="403.4" cy="222.9" r="2.4"/>
<circle cx="439.2" cy="185.6" r="2.4"/>
<circle cx="460.6" cy="145.0" r="2.4"/>
<circle cx="412.0" cy="216.2" r="2.4"/>
<circle cx="486.1" cy="129.0" r="2.4"/>
<circle cx="497.7" cy="105.9" r="2.4"/>
<circle cx="447.9" cy="176.7" r="2.4"/>
<circle cx="473.0" cy="132.0" r="2.4"/>
<circle cx="400.3" cy="225.2" r="2.4"/>
<circle cx="491.9" cy="115.6" r="2.4"/>
<circle cx="485.9" cy="118.5" r="2.4"/>
<circle cx="471.7" cy="148.1" r="2.4"/>
<circle cx="472.9" cy="144.8" r="2.4"/>
<circle cx="433.8" cy="191.8" r="2.4"/>
<circle cx="415.3" cy="186.5" r="2.4"/>
<circle cx="464.4" cy="156.9" r="2.4"/>
<circle cx="502.5" cy="101.1" r="2.4"/>
<circle cx="485.5" cy="125.4" r="2.4"/>
<circle cx="425.9" cy="174.6" r="2.4"/>
<circle cx="484.1" cy="128.9" r="2.4"/>
<circle cx="402.1" cy="211.9" r="2.4"/>
<circle cx="421.1" cy="180.5" r="2.4"/>
<circle cx="476.8" cy="139.2" r="2.4"/>
<circle cx="475.6" cy="140.5" r="2.4"/>
<circle cx="494.9" cy="115.0" r="2.4"/>
<circle cx="457.3" cy="165.8" r="2.4"/>
<circle cx="430.2" cy="194.6" r="2.4"/>
<circle cx="483.5" cy="118.2" r="2.4"/>
<circle cx="502.0" cy="102.7" r="2.4"/>
<circle cx="477.9" cy="125.5" r="2.4"/>
<circle cx="420.4" cy="208.6" r="2.4"/>
<circle cx="464.9" cy="137.1" r="2.4"/>
<circle cx="467.8" cy="152.4" r="2.4"/>
<circle cx="482.1" cy="132.0" r="2.4"/>
<circle cx="494.2" cy="111.6" r="2.4"/>
<circle cx="422.7" cy="205.0" r="2.4"/>
<circle cx="412.2" cy="217.2" r="2.4"/>
<circle cx="494.6" cy="114.5" r="2.4"/>
<circle cx="460.6" cy="160.8" r="2.4"/>
<circle cx="430.1" cy="195.2" r="2.4"/>
<circle cx="441.6" cy="185.3" r="2.4"/>
<circle cx="392.4" cy="224.9" r="2.4"/>
<circle cx="411.5" cy="195.4" r="2.4"/>
<circle cx="499.3" cy="104.6" r="2.4"/>
<circle cx="488.2" cy="115.6" r="2.4"/>
<circle cx="477.1" cy="139.8" r="2.4"/>
<circle cx="473.8" cy="131.8" r="2.4"/>
<circle cx="422.1" cy="205.5" r="2.4"/>
<circle cx="485.2" cy="130.4" r="2.4"/>
<circle cx="392.9" cy="229.6" r="2.4"/>
<circle cx="425.0" cy="176.6" r="2.4"/>
<circle cx="465.3" cy="153.4" r="2.4"/>
<circle cx="464.5" cy="155.3" r="2.4"/>
<circle cx="485.8" cy="117.6" r="2.4"/>
<circle cx="443.8" cy="180.1" r="2.4"/>
<circle cx="435.4" cy="167.6" r="2.4"/>
<circle cx="470.4" cy="134.0" r="2.4"/>
<circle cx="502.5" cy="103.3" r="2.4"/>
<circle cx="480.0" cy="134.6" r="2.4"/>
<circle cx="500.8" cy="103.8" r="2.4"/>
<circle cx="502.3" cy="103.5" r="2.4"/>
<circle cx="411.4" cy="191.8" r="2.4"/>
<circle cx="470.9" cy="147.4" r="2.4"/>
<circle cx="457.4" cy="166.1" r="2.4"/>
<circle cx="483.5" cy="118.2" r="2.4"/>
<circle cx="404.9" cy="207.6" r="2.4"/>
<circle cx="396.6" cy="219.2" r="2.4"/>
<circle cx="488.5" cy="114.6" r="2.4"/>
<circle cx="466.5" cy="136.7" r="2.4"/>
<circle cx="483.2" cy="129.1" r="2.4"/>
<circle cx="455.0" cy="167.2" r="2.4"/>
<circle cx="419.4" cy="180.8" r="2.4"/>
<circle cx="434.7" cy="188.3" r="2.4"/>
<circle cx="429.2" cy="201.0" r="2.4"/>
<circle cx="451.2" cy="152.0" r="2.4"/>
<circle cx="468.3" cy="150.5" r="2.4"/>
<circle cx="458.0" cy="167.6" r="2.4"/>
<circle cx="490.1" cy="118.9" r="2.4"/>
<circle cx="467.2" cy="136.1" r="2.4"/>
<circle cx="491.1" cy="113.0" r="2.4"/>
<circle cx="495.1" cy="112.9" r="2.4"/>
<circle cx="410.0" cy="219.8" r="2.4"/>
<circle cx="456.1" cy="146.2" r="2.4"/>
<circle cx="413.7" cy="213.1" r="2.4"/>
<circle cx="395.3" cy="221.3" r="2.4"/>
<circle cx="425.5" cy="175.0" r="2.4"/>
<circle cx="454.4" cy="168.4" r="2.4"/>
<circle cx="396.2" cy="228.9" r="2.4"/>
<circle cx="485.1" cy="118.0" r="2.4"/>
<circle cx="476.4" cy="141.4" r="2.4"/>
<circle cx="441.4" cy="184.2" r="2.4"/>
<circle cx="472.0" cy="148.6" r="2.4"/>
<circle cx="417.0" cy="186.3" r="2.4"/>
<circle cx="434.2" cy="191.5" r="2.4"/>
<circle cx="437.1" cy="187.0" r="2.4"/>
<circle cx="470.1" cy="148.0" r="2.4"/>
<circle cx="443.1" cy="158.4" r="2.4"/>
<circle cx="422.2" cy="179.0" r="2.4"/>
<circle cx="495.5" cy="108.1" r="2.4"/>
<circle cx="424.5" cy="206.1" r="2.4"/>
<circle cx="402.9" cy="221.5" r="2.4"/>
<circle cx="419.8" cy="209.1" r="2.4"/>
<circle cx="496.7" cy="107.4" r="2.4"/>
<circle cx="403.6" cy="205.6" r="2.4"/>
<circle cx="446.8" cy="174.9" r="2.4"/>
<circle cx="450.7" cy="175.4" r="2.4"/>
<circle cx="398.2" cy="211.8" r="2.4"/>
<circle cx="461.0" cy="142.9" r="2.4"/>
<circle cx="481.9" cy="133.5" r="2.4"/>
<circle cx="474.5" cy="144.5" r="2.4"/>
<circle cx="407.4" cy="222.0" r="2.4"/>
<circle cx="414.3" cy="212.9" r="2.4"/>
<circle cx="442.9" cy="180.7" r="2.4"/>
<circle cx="429.4" cy="198.7" r="2.4"/>
<circle cx="393.8" cy="231.6" r="2.4"/>
<circle cx="396.2" cy="213.8" r="2.4"/>
<circle cx="408.5" cy="200.7" r="2.4"/>
<circle cx="417.6" cy="184.7" r="2.4"/>
<circle cx="421.2" cy="208.2" r="2.4"/>
<circle cx="409.2" cy="197.5" r="2.4"/>
<circle cx="486.1" cy="116.4" r="2.4"/>
<circle cx="465.0" cy="156.3" r="2.4"/>
<circle cx="432.7" cy="169.3" r="2.4"/>
<circle cx="417.5" cy="181.9" r="2.4"/>
<circle cx="465.3" cy="136.6" r="2.4"/>
<circle cx="468.4" cy="137.0" r="2.4"/>
<circle cx="417.7" cy="184.6" r="2.4"/>
<circle cx="399.8" cy="213.4" r="2.4"/>
<circle cx="495.1" cy="108.6" r="2.4"/>
<circle cx="484.7" cy="127.3" r="2.4"/>
<circle cx="469.3" cy="135.3" r="2.4"/>
<circle cx="473.6" cy="144.1" r="2.4"/>
<circle cx="421.3" cy="209.4" r="2.4"/>
<circle cx="424.8" cy="204.9" r="2.4"/>
<circle cx="472.9" cy="132.0" r="2.4"/>
<circle cx="472.0" cy="148.8" r="2.4"/>
<circle cx="438.0" cy="163.1" r="2.4"/>
<circle cx="494.6" cy="112.1" r="2.4"/>
<circle cx="462.2" cy="141.0" r="2.4"/>
<circle cx="433.1" cy="192.2" r="2.4"/>
<circle cx="412.1" cy="215.1" r="2.4"/>
<circle cx="437.5" cy="187.7" r="2.4"/>
<circle cx="396.9" cy="217.8" r="2.4"/>
<circle cx="412.2" cy="189.1" r="2.4"/>
<circle cx="436.9" cy="165.9" r="2.4"/>
<circle cx="479.8" cy="121.2" r="2.4"/>
<circle cx="445.3" cy="176.6" r="2.4"/>
<circle cx="502.8" cy="102.9" r="2.4"/>
<circle cx="495.1" cy="109.0" r="2.4"/>
<circle cx="455.0" cy="170.9" r="2.4"/>
<circle cx="481.0" cy="121.8" r="2.4"/>
<circle cx="480.8" cy="121.4" r="2.4"/>
<circle cx="419.0" cy="180.5" r="2.4"/>
<circle cx="453.6" cy="150.0" r="2.4"/>
<circle cx="394.8" cy="214.2" r="2.4"/>
<circle cx="423.7" cy="178.3" r="2.4"/>
<circle cx="408.5" cy="199.5" r="2.4"/>
<circle cx="454.5" cy="167.8" r="2.4"/>
<circle cx="459.0" cy="144.8" r="2.4"/>
<circle cx="474.5" cy="130.1" r="2.4"/>
<circle cx="462.7" cy="143.1" r="2.4"/>
<circle cx="455.2" cy="171.4" r="2.4"/>
<circle cx="451.8" cy="152.3" r="2.4"/>
<circle cx="429.3" cy="196.6" r="2.4"/>
<circle cx="436.7" cy="165.6" r="2.4"/>
<circle cx="425.0" cy="202.0" r="2.4"/>
<circle cx="444.5" cy="158.4" r="2.4"/>
<circle cx="442.3" cy="182.9" r="2.4"/>
<circle cx="449.3" cy="172.6" r="2.4"/>
<circle cx="416.6" cy="186.8" r="2.4"/>
<circle cx="461.1" cy="142.6" r="2.4"/>
<circle cx="475.8" cy="141.7" r="2.4"/>
<circle cx="430.0" cy="171.8" r="2.4"/>
<circle cx="473.2" cy="129.7" r="2.4"/>
<circle cx="461.6" cy="158.9" r="2.4"/>
<circle cx="392.6" cy="224.6" r="2.4"/>
<circle cx="503.8" cy="101.3" r="2.4"/>
<circle cx="414.1" cy="190.2" r="2.4"/>
<circle cx="415.0" cy="189.4" r="2.4"/>
<circle cx="403.7" cy="206.5" r="2.4"/>
<circle cx="467.6" cy="137.4" r="2.4"/>
<circle cx="456.2" cy="146.4" r="2.4"/>
<circle cx="469.4" cy="134.6" r="2.4"/>
<circle cx="418.4" cy="182.9" r="2.4"/>
<circle cx="479.4" cy="123.5" r="2.4"/>
<circle cx="430.9" cy="173.4" r="2.4"/>
<circle cx="437.1" cy="189.3" r="2.4"/>
<circle cx="423.0" cy="177.4" r="2.4"/>
<circle cx="410.2" cy="194.6" r="2.4"/>
<circle cx="450.2" cy="153.5" r="2.4"/>
<circle cx="406.1" cy="199.4" r="2.4"/>
<circle cx="412.0" cy="187.2" r="2.4"/>
<circle cx="460.3" cy="162.5" r="2.4"/>
<circle cx="474.8" cy="129.8" r="2.4"/>
<circle cx="482.5" cy="135.1" r="2.4"/>
<circle cx="418.2" cy="180.6" r="2.4"/>
<circle cx="440.9" cy="184.5" r="2.4"/>
<circle cx="399.9" cy="225.8" r="2.4"/>
<circle cx="433.8" cy="192.3" r="2.4"/>
<circle cx="454.2" cy="170.5" r="2.4"/>
<circle cx="482.8" cy="132.0" r="2.4"/>
<circle cx="484.5" cy="130.7" r="2.4"/>
<circle cx="485.0" cy="120.2" r="2.4"/>
<circle cx="474.8" cy="146.6" r="2.4"/>
<circle cx="445.5" cy="158.7" r="2.4"/>
<circle cx="430.2" cy="198.3" r="2.4"/>
<circle cx="486.8" cy="123.5" r="2.4"/>
<circle cx="475.4" cy="129.7" r="2.4"/>
<circle cx="478.9" cy="126.2" r="2.4"/>
<circle cx="489.0" cy="113.8" r="2.4"/>
<circle cx="496.6" cy="105.2" r="2.4"/>
<circle cx="403.3" cy="222.0" r="2.4"/>
<circle cx="435.1" cy="191.9" r="2.4"/>
<circle cx="463.0" cy="142.7" r="2.4"/>
<circle cx="434.4" cy="193.2" r="2.4"/>
<circle cx="486.4" cy="113.4" r="2.4"/>
<circle cx="423.2" cy="204.6" r="2.4"/>
<circle cx="437.7" cy="164.0" r="2.4"/>
<circle cx="395.1" cy="216.3" r="2.4"/>
<circle cx="473.3" cy="131.8" r="2.4"/>
<circle cx="453.4" cy="171.0" r="2.4"/>
<circle cx="491.1" cy="112.2" r="2.4"/>
<circle cx="488.0" cy="126.1" r="2.4"/>
<circle cx="442.2" cy="181.8" r="2.4"/>
<circle cx="453.5" cy="171.4" r="2.4"/>
<circle cx="465.5" cy="138.7" r="2.4"/>
<circle cx="405.1" cy="220.2" r="2.4"/>
<circle cx="417.8" cy="211.4" r="2.4"/>
<circle cx="392.1" cy="223.1" r="2.4"/>
<circle cx="476.7" cy="128.6" r="2.4"/>
<circle cx="436.0" cy="189.1" r="2.4"/>
<circle cx="466.7" cy="137.2" r="2.4"/>
<circle cx="422.9" cy="206.4" r="2.4"/>
<circle cx="419.9" cy="179.9" r="2.4"/>
<circle cx="431.8" cy="194.6" r="2.4"/>
<circle cx="435.9" cy="165.4" r="2.4"/>
<circle cx="455.1" cy="166.9" r="2.4"/>
<circle cx="408.7" cy="200.9" r="2.4"/>
<circle cx="458.1" cy="147.3" r="2.4"/>
<circle cx="398.8" cy="227.1" r="2.4"/>
<circle cx="430.8" cy="169.8" r="2.4"/>
<circle cx="453.5" cy="148.6" r="2.4"/>
<circle cx="490.5" cy="111.9" r="2.4"/>
<circle cx="389.5" cy="225.5" r="2.4"/>
<circle cx="435.0" cy="189.3" r="2.4"/>
<circle cx="440.6" cy="183.9" r="2.4"/>
<circle cx="475.9" cy="127.5" r="2.4"/>
<circle cx="487.2" cy="127.1" r="2.4"/>
<circle cx="400.8" cy="225.2" r="2.4"/>
<circle cx="434.2" cy="190.9" r="2.4"/>
<circle cx="428.3" cy="200.8" r="2.4"/>
<circle cx="480.2" cy="138.5" r="2.4"/>
<circle cx="438.8" cy="188.2" r="2.4"/>
<circle cx="465.2" cy="137.9" r="2.4"/>
<circle cx="496.6" cy="105.3" r="2.4"/>
<circle cx="506.3" cy="100.5" r="2.4"/>
<circle cx="447.5" cy="177.0" r="2.4"/>
<circle cx="448.2" cy="155.0" r="2.4"/>
<circle cx="407.8" cy="196.1" r="2.4"/>
<circle cx="481.4" cy="135.1" r="2.4"/>
<circle cx="427.0" cy="176.8" r="2.4"/>
<circle cx="389.9" cy="234.0" r="2.4"/>
<circle cx="409.2" cy="217.0" r="2.4"/>
<circle cx="396.8" cy="217.3" r="2.4"/>
<circle cx="423.8" cy="206.8" r="2.4"/>
<circle cx="400.5" cy="222.8" r="2.4"/>
<circle cx="450.3" cy="154.8" r="2.4"/>
<circle cx="460.1" cy="160.5" r="2.4"/>
<circle cx="390.9" cy="232.8" r="2.4"/>
<circle cx="395.4" cy="214.7" r="2.4"/>
<circle cx="419.3" cy="181.8" r="2.4"/>
<circle cx="496.8" cy="105.6" r="2.4"/>
<circle cx="477.7" cy="137.0" r="2.4"/>
<circle cx="422.1" cy="177.6" r="2.4"/>
<circle cx="436.1" cy="188.6" r="2.4"/>
<circle cx="454.0" cy="146.5" r="2.4"/>
<circle cx="486.1" cy="124.8" r="2.4"/>
<circle cx="424.5" cy="176.1" r="2.4"/>
<circle cx="426.6" cy="175.5" r="2.4"/>
<circle cx="402.0" cy="221.6" r="2.4"/>
<circle cx="491.2" cy="117.1" r="2.4"/>
<circle cx="407.0" cy="218.6" r="2.4"/>
<circle cx="392.2" cy="223.1" r="2.4"/>
<circle cx="403.5" cy="210.7" r="2.4"/>
<circle cx="449.4" cy="156.1" r="2.4"/>
<circle cx="387.4" cy="229.7" r="2.4"/>
<circle cx="459.3" cy="143.8" r="2.4"/>
<circle cx="485.2" cy="129.1" r="2.4"/>
<circle cx="405.3" cy="204.0" r="2.4"/>
<circle cx="450.5" cy="174.3" r="2.4"/>
<circle cx="452.9" cy="151.9" r="2.4"/>
<circle cx="444.0" cy="182.8" r="2.4"/>
<circle cx="483.8" cy="118.6" r="2.4"/>
<circle cx="486.0" cy="118.9" r="2.4"/>
<circle cx="445.7" cy="180.5" r="2.4"/>
<circle cx="469.4" cy="134.1" r="2.4"/>
<circle cx="472.3" cy="147.6" r="2.4"/>
<circle cx="386.9" cy="232.3" r="2.4"/>
<circle cx="438.6" cy="187.1" r="2.4"/>
<circle cx="410.7" cy="195.2" r="2.4"/>
<circle cx="404.8" cy="220.2" r="2.4"/>
<circle cx="410.0" cy="198.4" r="2.4"/>
<circle cx="396.6" cy="227.8" r="2.4"/>
<circle cx="469.1" cy="135.0" r="2.4"/>
<circle cx="440.6" cy="183.3" r="2.4"/>
<circle cx="490.1" cy="118.6" r="2.4"/>
<circle cx="401.0" cy="209.2" r="2.4"/>
<circle cx="466.3" cy="154.3" r="2.4"/>
<circle cx="391.6" cy="232.8" r="2.4"/>
<circle cx="391.5" cy="225.5" r="2.4"/>
<circle cx="409.8" cy="191.8" r="2.4"/>
<circle cx="443.9" cy="179.3" r="2.4"/>
<circle cx="493.1" cy="116.7" r="2.4"/>
<circle cx="491.7" cy="116.9" r="2.4"/>
<circle cx="451.5" cy="152.9" r="2.4"/>
<circle cx="457.4" cy="147.1" r="2.4"/>
<circle cx="478.8" cy="140.3" r="2.4"/>
<circle cx="435.9" cy="163.7" r="2.4"/>
<circle cx="447.9" cy="176.1" r="2.4"/>
<circle cx="422.1" cy="208.1" r="2.4"/>
<circle cx="401.5" cy="211.9" r="2.4"/>
<circle cx="488.0" cy="116.0" r="2.4"/>
<circle cx="432.2" cy="193.2" r="2.4"/>
<circle cx="397.8" cy="225.9" r="2.4"/>
<circle cx="439.6" cy="163.0" r="2.4"/>
<circle cx="443.5" cy="159.8" r="2.4"/>
<circle cx="434.6" cy="167.6" r="2.4"/>
<circle cx="475.4" cy="141.1" r="2.4"/>
<circle cx="459.0" cy="164.7" r="2.4"/>
<circle cx="440.7" cy="160.2" r="2.4"/>
<circle cx="391.8" cy="224.4" r="2.4"/>
<circle cx="409.7" cy="218.3" r="2.4"/>
<circle cx="434.4" cy="194.1" r="2.4"/>
<circle cx="474.3" cy="146.4" r="2.4"/>
<circle cx="416.8" cy="185.1" r="2.4"/>
<circle cx="444.4" cy="182.2" r="2.4"/>
<circle cx="426.8" cy="201.4" r="2.4"/>
<circle cx="399.5" cy="223.9" r="2.4"/>
<circle cx="422.5" cy="205.6" r="2.4"/>
<circle cx="484.5" cy="130.3" r="2.4"/>
<circle cx="491.9" cy="117.8" r="2.4"/>
<circle cx="394.9" cy="228.7" r="2.4"/>
<circle cx="465.2" cy="140.2" r="2.4"/>
<circle cx="453.9" cy="148.4" r="2.4"/>
<circle cx="416.2" cy="210.5" r="2.4"/>
<circle cx="429.9" cy="195.5" r="2.4"/>
<circle cx="395.5" cy="218.9" r="2.4"/>
<circle cx="460.3" cy="142.2" r="2.4"/>
<circle cx="495.2" cy="113.9" r="2.4"/>
<circle cx="399.0" cy="213.8" r="2.4"/>
<circle cx="403.3" cy="208.4" r="2.4"/>
<circle cx="504.7" cy="100.4" r="2.4"/>
<circle cx="446.2" cy="178.2" r="2.4"/>
<circle cx="472.3" cy="149.1" r="2.4"/>
<circle cx="464.8" cy="156.4" r="2.4"/>
<circle cx="465.7" cy="158.8" r="2.4"/>
<circle cx="496.9" cy="108.8" r="2.4"/>
<circle cx="419.0" cy="181.7" r="2.4"/>
<circle cx="386.7" cy="230.8" r="2.4"/>
<circle cx="428.2" cy="198.9" r="2.4"/>
<circle cx="492.0" cy="111.4" r="2.4"/>
<circle cx="476.6" cy="127.9" r="2.4"/>
<circle cx="479.5" cy="137.0" r="2.4"/>
<circle cx="477.6" cy="140.2" r="2.4"/>
<circle cx="492.5" cy="115.3" r="2.4"/>
<circle cx="471.9" cy="147.1" r="2.4"/>
<circle cx="422.7" cy="179.2" r="2.4"/>
<circle cx="390.4" cy="225.1" r="2.4"/>
<circle cx="457.1" cy="167.4" r="2.4"/>
<circle cx="454.9" cy="149.9" r="2.4"/>
<circle cx="418.6" cy="183.1" r="2.4"/>
<circle cx="422.0" cy="176.6" r="2.4"/>
<circle cx="463.1" cy="139.5" r="2.4"/>
<circle cx="388.8" cy="226.9" r="2.4"/>
<circle cx="394.9" cy="228.1" r="2.4"/>
<circle cx="393.2" cy="224.6" r="2.4"/>
<circle cx="420.5" cy="178.6" r="2.4"/>
<circle cx="447.7" cy="178.7" r="2.4"/>
<circle cx="446.4" cy="176.9" r="2.4"/>
<circle cx="413.4" cy="214.3" r="2.4"/>
<circle cx="434.8" cy="166.8" r="2.4"/>
<circle cx="457.6" cy="145.1" r="2.4"/>
<circle cx="459.4" cy="142.3" r="2.4"/>
<circle cx="388.7" cy="233.4" r="2.4"/>
<circle cx="406.4" cy="205.9" r="2.4"/>
<circle cx="501.4" cy="100.5" r="2.4"/>
<circle cx="466.6" cy="135.4" r="2.4"/>
<circle cx="480.0" cy="135.5" r="2.4"/>
<circle cx="408.2" cy="219.6" r="2.4"/>
<circle cx="483.2" cy="121.8" r="2.4"/>
<circle cx="418.3" cy="210.2" r="2.4"/>
<circle cx="441.1" cy="161.8" r="2.4"/>
<circle cx="403.3" cy="209.3" r="2.4"/>
<circle cx="482.5" cy="119.6" r="2.4"/>
<circle cx="462.8" cy="139.3" r="2.4"/>
<circle cx="483.2" cy="134.0" r="2.4"/>
<circle cx="465.7" cy="156.4" r="2.4"/>
<circle cx="459.3" cy="162.2" r="2.4"/>
<circle cx="490.4" cy="111.7" r="2.4"/>
<circle cx="443.5" cy="159.0" r="2.4"/>
<circle cx="492.8" cy="117.8" r="2.4"/>
<circle cx="441.6" cy="160.0" r="2.4"/>
<circle cx="455.3" cy="166.4" r="2.4"/>
<circle cx="414.7" cy="211.4" r="2.4"/>
<circle cx="398.9" cy="227.7" r="2.4"/>
<circle cx="461.4" cy="160.1" r="2.4"/>
<circle cx="436.7" cy="167.6" r="2.4"/>
<circle cx="479.4" cy="138.9" r="2.4"/>
<circle cx="454.8" cy="148.7" r="2.4"/>
<circle cx="402.9" cy="221.7" r="2.4"/>
<circle cx="411.2" cy="217.2" r="2.4"/>
<circle cx="474.6" cy="127.2" r="2.4"/>
<circle cx="444.1" cy="157.4" r="2.4"/>
<circle cx="408.2" cy="200.6" r="2.4"/>
<circle cx="434.2" cy="167.8" r="2.4"/>
<circle cx="434.4" cy="169.7" r="2.4"/>
<circle cx="449.0" cy="155.7" r="2.4"/>
<circle cx="442.6" cy="161.5" r="2.4"/>
<circle cx="482.1" cy="131.2" r="2.4"/>
<circle cx="429.8" cy="174.8" r="2.4"/>
<circle cx="395.3" cy="213.9" r="2.4"/>
<circle cx="395.9" cy="215.3" r="2.4"/>
<circle cx="489.4" cy="120.1" r="2.4"/>
<circle cx="458.6" cy="143.0" r="2.4"/>
<circle cx="482.7" cy="121.1" r="2.4"/>
<circle cx="428.3" cy="198.0" r="2.4"/>
<circle cx="447.3" cy="177.0" r="2.4"/>
<circle cx="447.2" cy="156.8" r="2.4"/>
<circle cx="386.0" cy="231.3" r="2.4"/>
<circle cx="452.5" cy="150.0" r="2.4"/>
<circle cx="480.6" cy="135.8" r="2.4"/>
<circle cx="503.8" cy="101.1" r="2.4"/>
<circle cx="424.1" cy="176.3" r="2.4"/>
<circle cx="453.4" cy="149.6" r="2.4"/>
<circle cx="455.7" cy="167.6" r="2.4"/>
<circle cx="478.1" cy="125.3" r="2.4"/>
<circle cx="394.9" cy="218.1" r="2.4"/>
<circle cx="458.9" cy="143.7" r="2.4"/>
<circle cx="407.9" cy="217.8" r="2.4"/>
<circle cx="422.3" cy="208.4" r="2.4"/>
<circle cx="446.4" cy="176.4" r="2.4"/>
<circle cx="444.3" cy="157.2" r="2.4"/>
<circle cx="446.9" cy="155.5" r="2.4"/>
<circle cx="503.5" cy="100.2" r="2.4"/>
<circle cx="460.6" cy="161.6" r="2.4"/>
<circle cx="399.4" cy="213.7" r="2.4"/>
<circle cx="443.8" cy="181.7" r="2.4"/>
<circle cx="477.6" cy="137.7" r="2.4"/>
<circle cx="416.5" cy="184.7" r="2.4"/>
<circle cx="482.6" cy="132.6" r="2.4"/>
<circle cx="467.1" cy="135.6" r="2.4"/>
<circle cx="454.8" cy="169.6" r="2.4"/>
<circle cx="445.4" cy="179.9" r="2.4"/>
<circle cx="456.0" cy="146.9" r="2.4"/>
<circle cx="458.2" cy="163.0" r="2.4"/>
<circle cx="425.3" cy="201.7" r="2.4"/>
<circle cx="497.7" cy="109.2" r="2.4"/>
<circle cx="458.4" cy="164.5" r="2.4"/>
<circle cx="502.7" cy="101.4" r="2.4"/>
<circle cx="477.4" cy="139.9" r="2.4"/>
<circle cx="422.6" cy="179.3" r="2.4"/>
<circle cx="475.1" cy="130.1" r="2.4"/>
<circle cx="408.6" cy="203.2" r="2.4"/>
<circle cx="454.4" cy="150.1" r="2.4"/>
<circle cx="437.7" cy="165.9" r="2.4"/>
<circle cx="458.5" cy="146.3" r="2.4"/>
<circle cx="468.7" cy="150.9" r="2.4"/>
<circle cx="436.0" cy="165.6" r="2.4"/>
<circle cx="481.5" cy="131.5" r="2.4"/>
<circle cx="431.9" cy="193.4" r="2.4"/>
<circle cx="450.2" cy="172.7" r="2.4"/>
<circle cx="476.1" cy="128.7" r="2.4"/>
<circle cx="397.0" cy="212.2" r="2.4"/>
<circle cx="494.0" cy="109.2" r="2.4"/>
<circle cx="454.5" cy="168.0" r="2.4"/>
<circle cx="482.2" cy="133.1" r="2.4"/>
<circle cx="487.9" cy="127.9" r="2.4"/>
<circle cx="405.7" cy="202.2" r="2.4"/>
<circle cx="424.2" cy="203.5" r="2.4"/>
<circle cx="424.2" cy="177.0" r="2.4"/>
<circle cx="420.8" cy="209.4" r="2.4"/>
<circle cx="482.8" cy="118.3" r="2.4"/>
<circle cx="406.9" cy="201.7" r="2.4"/>
<circle cx="442.9" cy="180.2" r="2.4"/>
<circle cx="452.1" cy="152.4" r="2.4"/>
<circle cx="483.1" cy="128.5" r="2.4"/>
<circle cx="405.8" cy="202.1" r="2.4"/>
<circle cx="418.2" cy="182.1" r="2.4"/>
<circle cx="400.4" cy="226.8" r="2.4"/>
<circle cx="416.5" cy="210.0" r="2.4"/>
<circle cx="420.5" cy="178.4" r="2.4"/>
<circle cx="479.8" cy="125.3" r="2.4"/>
<circle cx="478.2" cy="126.9" r="2.4"/>
<circle cx="387.8" cy="232.5" r="2.4"/>
<circle cx="406.4" cy="202.2" r="2.4"/>
<circle cx="489.0" cy="112.5" r="2.4"/>
<circle cx="402.2" cy="209.9" r="2.4"/>
<circle cx="476.3" cy="140.5" r="2.4"/>
<circle cx="403.5" cy="155.0" r="2.4"/>
<circle cx="411.4" cy="153.2" r="2.4"/>
<circle cx="410.1" cy="157.6" r="2.4"/>
<circle cx="416.6" cy="158.8" r="2.4"/>
<circle cx="413.6" cy="166.4" r="2.4"/>
<circle cx="416.6" cy="176.9" r="2.4"/>
<circle cx="414.9" cy="180.4" r="2.4"/>
<circle cx="428.9" cy="161.1" r="2.4"/>
<circle cx="426.2" cy="165.5" r="2.4"/>
<circle cx="429.8" cy="169.0" r="2.4"/>
<circle cx="424.5" cy="170.8" r="2.4"/>
<circle cx="433.8" cy="151.2" r="2.4"/>
<circle cx="444.3" cy="131.7" r="2.4"/>
<circle cx="435.9" cy="137.0" r="2.4"/>
<circle cx="437.1" cy="146.2" r="2.4"/>
<circle cx="435.0" cy="146.6" r="2.4"/>
<circle cx="433.2" cy="150.6" r="2.4"/>
<circle cx="442.5" cy="151.5" r="2.4"/>
<circle cx="435.9" cy="157.6" r="2.4"/>
<circle cx="485.8" cy="136.2" r="2.4"/>
<circle cx="481.2" cy="146.2" r="2.4"/>
<circle cx="478.0" cy="148.0" r="2.4"/>
<circle cx="480.0" cy="154.5" r="2.4"/>
<circle cx="475.0" cy="157.5" r="2.4"/>
<circle cx="471.2" cy="164.5" r="2.4"/>
<circle cx="476.2" cy="167.0" r="2.4"/>
<circle cx="456.9" cy="176.0" r="2.4"/>
<circle cx="467.0" cy="170.8" r="2.4"/>
<circle cx="451.6" cy="177.8" r="2.4"/>
<circle cx="447.2" cy="182.1" r="2.4"/>
<circle cx="446.4" cy="187.4" r="2.4"/>
<circle cx="467.4" cy="161.1" r="2.4"/>
<circle cx="465.6" cy="158.0" r="2.4"/>
<circle cx="465.6" cy="131.5" r="2.4"/>
<circle cx="461.2" cy="136.6" r="2.4"/>
<circle cx="456.9" cy="141.0" r="2.4"/>
<circle cx="483.7" cy="112.0" r="2.4"/>
<circle cx="472.4" cy="160.0" r="2.4"/>
<circle cx="474.0" cy="153.6" r="2.4"/>
<circle cx="452.0" cy="178.5" r="2.4"/>
<circle cx="492.9" cy="112.3" r="2.4"/>
<circle cx="494.2" cy="111.3" r="2.4"/>
<circle cx="494.1" cy="110.6" r="2.4"/>
<circle cx="495.6" cy="109.9" r="2.4"/>
<circle cx="495.1" cy="109.2" r="2.4"/>
<circle cx="496.6" cy="107.5" r="2.4"/>
<circle cx="498.5" cy="106.9" r="2.4"/>
<circle cx="498.7" cy="107.0" r="2.4"/>
<circle cx="500.0" cy="104.3" r="2.4"/>
<circle cx="499.3" cy="103.3" r="2.4"/>
<circle cx="501.0" cy="102.8" r="2.4"/>
<circle cx="502.3" cy="102.9" r="2.4"/>
<circle cx="502.8" cy="101.3" r="2.4"/>
<circle cx="502.7" cy="101.0" r="2.4"/>
<circle cx="503.9" cy="99.0" r="2.4"/>
<circle cx="505.2" cy="99.0" r="2.4"/>
<circle cx="506.5" cy="98.2" r="2.4"/>
<circle cx="507.3" cy="97.4" r="2.4"/>
<circle cx="507.7" cy="94.9" r="2.4"/>
<circle cx="508.8" cy="94.8" r="2.4"/>
<circle cx="509.2" cy="94.0" r="2.4"/>
<circle cx="510.5" cy="93.7" r="2.4"/>
<circle cx="510.7" cy="92.1" r="2.4"/>
<circle cx="511.5" cy="90.9" r="2.4"/>
</g>
<text class="bi" x="122" y="107.7" fill="#5f5f5f" letter-spacing="0.1">Treatment</text>
<text class="bi" x="392.7" y="107.7" fill="#5f5f5f">Control</text>
<text class="bi" transform="translate(122,169.7) scale(1.07,1)" style="font-size:11.2px" fill="#000">n=2</text>
<text class="bi" transform="translate(393.1,169.7) scale(1.07,1)" style="font-size:11.2px" fill="#000">n=2</text>
<text id="cap1" x="158" y="354.2" font-size="12.2">Average<tspan dx="1.4"> R-squared:</tspan><tspan dx="0.2"> Treatment</tspan><tspan dx="-0.8"> (0.98),</tspan><tspan dx="-0.7"> Control</tspan><tspan dx="0.5"> (0.99)</tspan></text>
<text x="300" y="383" text-anchor="middle" font-size="9.47" stroke="#000" stroke-width="0.15">Genes detected at least one chip were plotted (detection p-value &lt; 0.01)</text>
</svg>
</body></html>
